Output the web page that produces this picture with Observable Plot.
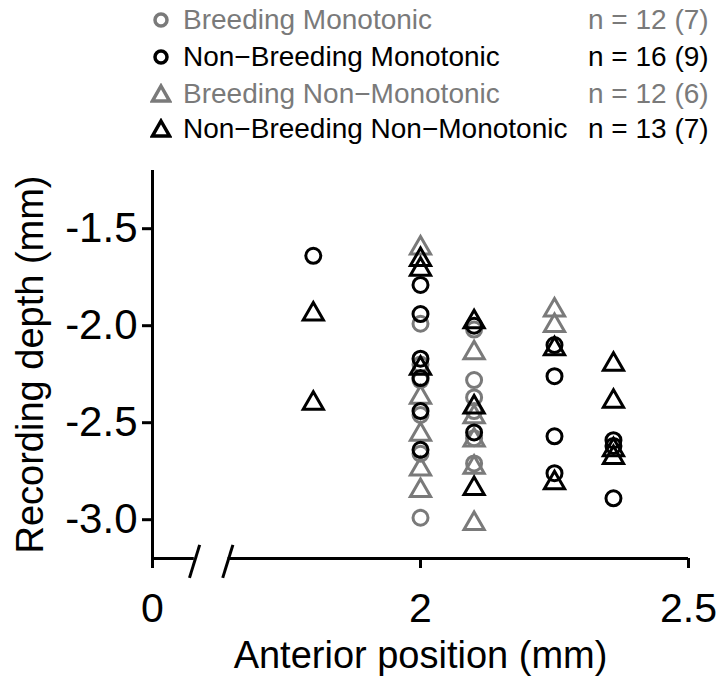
<!DOCTYPE html>
<html>
<head>
<meta charset="utf-8">
<script src="https://cdn.jsdelivr.net/npm/d3@7"></script>
<script src="https://cdn.jsdelivr.net/npm/@observablehq/plot@0.6"></script>
<style>
  body { margin: 0; background: #fff; font-family: "Liberation Sans", Arial, sans-serif; }
  #legend { position: relative; width: 720px; height: 150px; }
  .row { position: absolute; left: 0; width: 720px; height: 36px; line-height: 36px; font-size: 28px; }
  .row svg { position: absolute; left: 150px; top: 7px; }
  .row .name { position: absolute; left: 183px; top: 0; white-space: nowrap; }
  .row .count { position: absolute; left: 588px; top: 0; white-space: nowrap; }
</style>
</head>
<body>
<div id="legend"></div>
<div id="chart"></div>
<script>
// ---- data ----
const seriesNames = ["Breeding Monotonic", "Non\u2212Breeding Monotonic", "Breeding Non\u2212Monotonic", "Non\u2212Breeding Non\u2212Monotonic"];
const seriesCounts = ["n = 12 (7)", "n = 16 (9)", "n = 12 (6)", "n = 13 (7)"];
const seriesColors = ["#7a7a7a", "#000000", "#7a7a7a", "#000000"];
const seriesSymbols = ["circle", "circle", "triangle", "triangle"];

// [anterior position (mm), recording depth (mm)]
const breedingMonotonic = [
  [2.0, -1.99], [2.0, -2.20], [2.0, -2.28], [2.0, -2.46], [2.0, -2.66], [2.0, -2.99],
  [2.1, -2.02], [2.1, -2.28], [2.1, -2.37], [2.1, -2.44], [2.1, -2.58], [2.1, -2.71]
];
const breedingNonMonotonic = [
  [2.0, -1.60], [2.0, -2.37], [2.0, -2.56], [2.0, -2.74], [2.0, -2.85],
  [2.1, -2.14], [2.1, -2.47], [2.1, -2.59], [2.1, -2.73], [2.1, -3.02],
  [2.25, -1.92], [2.25, -2.00]
];
const nonBreedingMonotonic = [
  [1.8, -1.64],
  [2.0, -1.79], [2.0, -1.94], [2.0, -2.17], [2.0, -2.27], [2.0, -2.44], [2.0, -2.64],
  [2.1, -2.00], [2.1, -2.55],
  [2.25, -2.10], [2.25, -2.26], [2.25, -2.57], [2.25, -2.76],
  [2.36, -2.59], [2.36, -2.62], [2.36, -2.89]
];
const nonBreedingNonMonotonic = [
  [1.8, -1.94], [1.8, -2.40],
  [2.0, -1.66], [2.0, -1.71], [2.0, -2.22],
  [2.1, -1.98], [2.1, -2.42], [2.1, -2.84],
  [2.25, -2.12], [2.25, -2.81],
  [2.36, -2.20], [2.36, -2.39], [2.36, -2.64], [2.36, -2.68]
];

const xTicks = [1.5, 2, 2.5];
const xTickLabels = ["0", "2", "2.5"];
const yTicks = [-3.0, -2.5, -2.0, -1.5];
const xTitle = "Anterior position (mm)";
const yTitle = "Recording depth (mm)";
// broken x axis: solid pieces and the two slash marks
const axisSegments = [[1.5, 1.578], [1.641, 2.5]];
const breakMarks = [[1.569, -3.30, 1.588, -3.13], [1.631, -3.30, 1.650, -3.13]];

// ---- legend ----
const rowCenters = [20, 57, 94, 129];
const legend = document.getElementById("legend");
seriesNames.forEach((name, i) => {
  const row = document.createElement("div");
  row.className = "row";
  row.style.top = (rowCenters[i] - 18) + "px";
  row.style.color = seriesColors[i];
  const shape = seriesSymbols[i] === "circle"
    ? `<circle cx="11" cy="11" r="6" fill="none" stroke="${seriesColors[i]}" stroke-width="3.5"/>`
    : `<polygon points="11,3 19.5,18 2.5,18" fill="none" stroke="${seriesColors[i]}" stroke-width="3.5" stroke-linejoin="miter"/>`;
  row.innerHTML = `<svg width="22" height="22">${shape}</svg><span class="name">${name}</span><span class="count">${seriesCounts[i]}</span>`;
  legend.appendChild(row);
});

// ---- chart ----
const font = "'Liberation Sans', Arial, sans-serif";
const dotOpts = (color, symbol) => ({
  x: d => d[0], y: d => d[1], r: 7.5, symbol, fill: "none", stroke: color, strokeWidth: 3
});

const chart = Plot.plot({
  width: 720,
  height: 526,
  marginTop: 20,
  marginBottom: 118,
  marginLeft: 152,
  marginRight: 32,
  x: { domain: [1.5, 2.5] },
  y: { domain: [-3.2, -1.2] },
  style: { fontFamily: font, background: "white", color: "black", overflow: "visible" },
  marks: [
    Plot.ruleX([1.5], { stroke: "black", strokeWidth: 3 }),
    Plot.ruleY(axisSegments, { x1: d => d[0], x2: d => d[1], y: -3.2, stroke: "black", strokeWidth: 3 }),
    Plot.link(breakMarks, { x1: d => d[0], y1: d => d[1], x2: d => d[2], y2: d => d[3], stroke: "black", strokeWidth: 3 }),
    Plot.axisY({ ticks: yTicks, tickFormat: d => d.toFixed(1), tickSize: 10, tickPadding: 5, fontSize: 42, strokeWidth: 3, label: null }),
    Plot.axisX({ ticks: xTicks, tickFormat: d => xTickLabels[xTicks.indexOf(d)], tickSize: 10, tickPadding: 24, fontSize: 41, strokeWidth: 3, label: null }),
    Plot.text([yTitle], { frameAnchor: "left", dx: -122, rotate: -90, textAnchor: "middle", lineAnchor: "middle", fontSize: 38, fill: "black" }),
    Plot.text([xTitle], { frameAnchor: "bottom", dy: 97, textAnchor: "middle", lineAnchor: "middle", fontSize: 38, fill: "black" }),
    Plot.dot(breedingMonotonic, dotOpts(seriesColors[0], "circle")),
    Plot.dot(breedingNonMonotonic, dotOpts(seriesColors[2], "triangle")),
    Plot.dot(nonBreedingMonotonic, dotOpts(seriesColors[1], "circle")),
    Plot.dot(nonBreedingNonMonotonic, dotOpts(seriesColors[3], "triangle"))
  ]
});
document.getElementById("chart").appendChild(chart);
</script>
</body>
</html>
